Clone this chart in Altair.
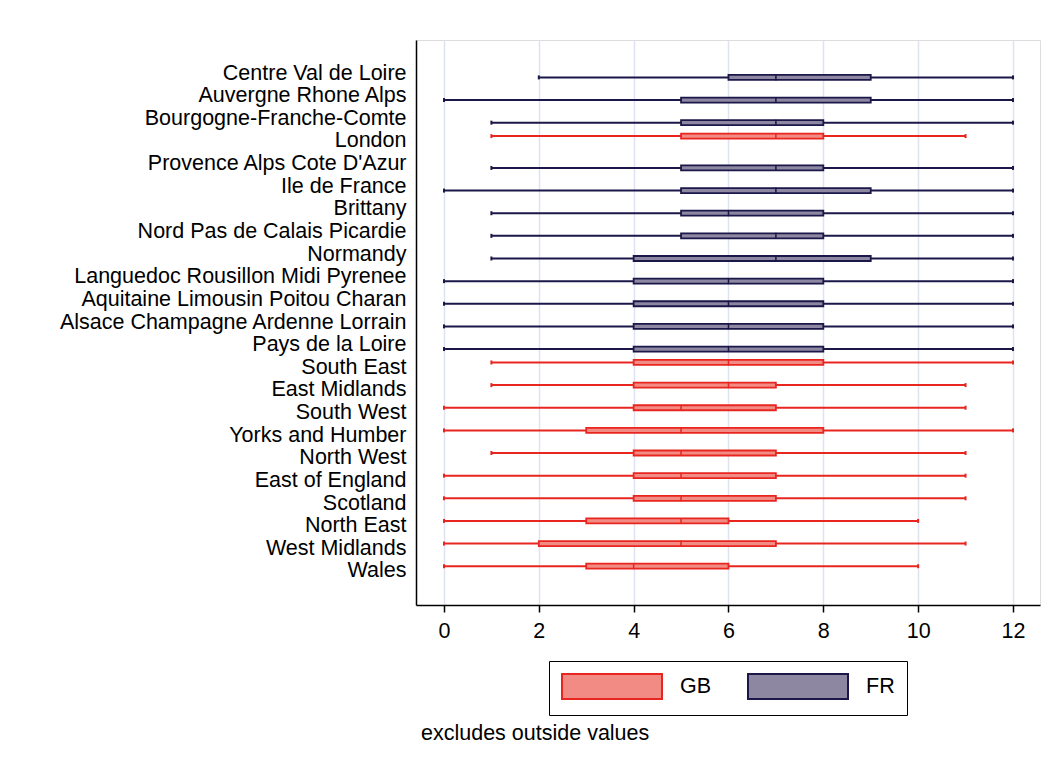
import altair as alt
import pandas as pd

regions = [
    "Centre Val de Loire", "Auvergne Rhone Alps", "Bourgogne-Franche-Comte", "London",
    "Provence Alps Cote D'Azur", "Ile de France", "Brittany", "Nord Pas de Calais Picardie",
    "Normandy", "Languedoc Rousillon Midi Pyrenee", "Aquitaine Limousin Poitou Charan",
    "Alsace Champagne Ardenne Lorrain", "Pays de la Loire", "South East", "East Midlands",
    "South West", "Yorks and Humber", "North West", "East of England", "Scotland",
    "North East", "West Midlands", "Wales",
]
country = ["FR", "FR", "FR", "GB", "FR", "FR", "FR", "FR", "FR", "FR", "FR", "FR", "FR",
           "GB", "GB", "GB", "GB", "GB", "GB", "GB", "GB", "GB", "GB"]
lower  = [2, 0, 1, 1, 1, 0, 1, 1, 1, 0, 0, 0, 0, 1, 1, 0, 0, 1, 0, 0, 0, 0, 0]
q1     = [6, 5, 5, 5, 5, 5, 5, 5, 4, 4, 4, 4, 4, 4, 4, 4, 3, 4, 4, 4, 3, 2, 3]
median = [7, 7, 7, 7, 7, 7, 6, 7, 7, 6, 6, 6, 6, 6, 6, 5, 5, 5, 5, 5, 5, 5, 4]
q3     = [9, 9, 8, 8, 8, 9, 8, 8, 9, 8, 8, 8, 8, 8, 7, 7, 8, 7, 7, 7, 6, 7, 6]
upper  = [12, 12, 12, 11, 12, 12, 12, 12, 12, 12, 12, 12, 12, 12, 11, 11, 12, 11, 11, 11, 10, 11, 10]
x_ticks = [0, 2, 4, 6, 8, 10, 12]
legend_order = ["GB", "FR"]

df = pd.DataFrame({"region": regions, "country": country, "lower": lower, "q1": q1,
                   "median": median, "q3": q3, "upper": upper})

FONT = "Liberation Sans"
FS = 21.5
fill_colors = ["#f28b84", "#8d87a1"]
stroke_colors = ["#e8261f", "#1b1748"]
offsets = {"GB": -5.3, "FR": 3.9}
strokes = {"GB": stroke_colors[0], "FR": stroke_colors[1]}

xscale = alt.Scale(domain=[-0.59, 12.57], nice=False, zero=False)
xaxis = alt.Axis(values=x_ticks, grid=True, gridColor="#dfe2f0", gridWidth=1.5,
                 domainColor="black", domainWidth=1.5, tickColor="black", tickSize=7,
                 tickWidth=1.5, labelFontSize=FS, labelFont=FONT, labelColor="black",
                 labelPadding=8, title=None)
yscale = alt.Scale(paddingInner=0, paddingOuter=0.98)
yaxis = alt.Axis(ticks=False, grid=False, domainColor="black", domainWidth=1.5,
                 labelFontSize=FS, labelFont=FONT, labelColor="black", labelPadding=10,
                 labelLimit=500, title=None)

# wide rectangular swatch: left edge at -1, right edge at 7 (units of sqrt(size)/2)
shape = "M-1,-1H7V1H-1Z"
legend = alt.Legend(orient="none", legendX=133, legendY=621, direction="horizontal",
                    title=None, symbolType=shape, symbolSize=625, symbolStrokeWidth=2,
                    labelFontSize=FS, labelFont=FONT, labelColor="black", labelOffset=92,
                    columnPadding=32, padding=12, strokeColor="black")

Y = alt.Y("region:N", sort=regions, scale=yscale, axis=yaxis)


def part(c):
    base = alt.Chart(df).transform_filter(alt.datum.country == c)
    off = offsets[c]
    col = strokes[c]
    whisk = base.mark_rule(strokeWidth=2, color=col, yOffset=off).encode(
        x=alt.X("lower:Q", scale=xscale, axis=xaxis), x2="upper:Q", y=Y)
    box = base.mark_bar(size=5, strokeWidth=1.8, yOffset=off).encode(
        x=alt.X("q1:Q", scale=xscale, axis=xaxis), x2="q3:Q", y=Y,
        fill=alt.Fill("country:N", scale=alt.Scale(domain=legend_order, range=fill_colors), legend=legend),
        stroke=alt.Stroke("country:N", scale=alt.Scale(domain=legend_order, range=stroke_colors), legend=legend))
    med = base.mark_tick(size=6, thickness=1.5, color=col, yOffset=off, opacity=1).encode(
        x=alt.X("median:Q", scale=xscale, axis=xaxis), y=Y)
    capl = base.mark_tick(size=4, thickness=2, color=col, yOffset=off, opacity=1).encode(
        x=alt.X("lower:Q", scale=xscale, axis=xaxis), y=Y)
    caph = base.mark_tick(size=4, thickness=2, color=col, yOffset=off, opacity=1).encode(
        x=alt.X("upper:Q", scale=xscale, axis=xaxis), y=Y)
    return [whisk, box, med, capl, caph]


gb = part("GB")
fr = part("FR")
layers = [gb[0], fr[0], gb[1], fr[1], gb[2], fr[2], gb[3], fr[3], gb[4], fr[4]]

chart = alt.layer(*layers).properties(
    width=624, height=565,
    autosize=alt.AutoSizeParams(type="none"),
    padding={"left": 408, "top": 32, "right": 3, "bottom": 150},
    title=alt.TitleParams("excludes outside values", orient="bottom", anchor="start",
                          frame="group", offset=7, dx=5, fontSize=FS, font=FONT,
                          fontWeight="normal", color="black"),
).configure_view(stroke=None).configure(background="white")

chart.save("out.html", embed_options={"renderer": "svg", "actions": False})
